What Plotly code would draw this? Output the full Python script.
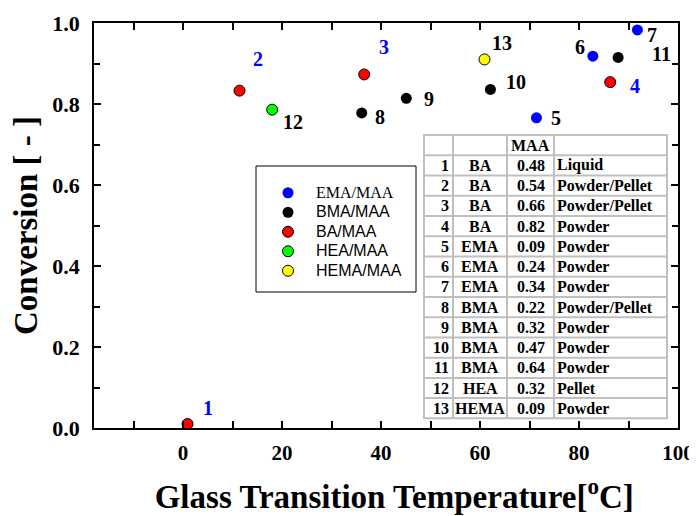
import plotly.graph_objects as go

# ---------------- data ----------------
ema_tg = [71.4, 82.8, 91.8]
ema_conv = [0.766, 0.918, 0.983]
ema_ids = ["5", "6", "7"]

bma_tg = [36.1, 45.1, 62.1, 87.9]
bma_conv = [0.778, 0.814, 0.836, 0.915]
bma_ids = ["8", "9", "10", "11"]

ba_tg = [0.9, 11.4, 36.6, 86.3]
ba_conv = [0.010, 0.833, 0.873, 0.854]
ba_ids = ["1", "2", "3", "4"]

hea_tg = [18.0]
hea_conv = [0.786]
hea_ids = ["12"]

hema_tg = [60.9]
hema_conv = [0.910]
hema_ids = ["13"]

table_no = ["1", "2", "3", "4", "5", "6", "7", "8", "9", "10", "11", "12", "13"]
table_monomer = ["BA", "BA", "BA", "BA", "EMA", "EMA", "EMA", "BMA", "BMA", "BMA", "BMA", "HEA", "HEMA"]
table_maa = ["0.48", "0.54", "0.66", "0.82", "0.09", "0.24", "0.34", "0.22", "0.32", "0.47", "0.64", "0.32", "0.09"]
table_form = ["Liquid", "Powder/Pellet", "Powder/Pellet", "Powder", "Powder", "Powder", "Powder",
              "Powder/Pellet", "Powder", "Powder", "Powder", "Pellet", "Powder"]

# ---------------- layout constants ----------------
OFF = 8  # page body margin
W, H = 697 - OFF, 516 - OFF
ML, MR, MT = 94 - OFF, 19, 23 - OFF
MB = H - (428 - OFF)
PW, PH = W - ML - MR, H - MT - MB
SERIF = "Liberation Serif"
SANS = "Liberation Sans"


def px(x):  # screenshot pixel -> paper
    return (x - OFF - ML) / PW


def py(y):
    return (H - MB - (y - OFF)) / PH


fig = go.Figure()

LEG = "<span style='font-size:16px'>%s</span>"
series = [
    (ema_tg, ema_conv, "<span style='font-size:16px;font-family:\"Liberation Serif\"'>EMA/MAA</span>",
     "#0000ff", 0, "#0000ff"),
    (bma_tg, bma_conv, LEG % "BMA/MAA", "#000000", 0, "#000000"),
    (ba_tg, ba_conv, LEG % "BA/MAA", "#ff0000", 1, "#000000"),
    (hea_tg, hea_conv, LEG % "HEA/MAA", "#00ff00", 1, "#000000"),
    (hema_tg, hema_conv, LEG % "HEMA/MAA", "#ffff00", 1, "#000000"),
]
for xs, ys, name, col, lw, lc in series:
    fig.add_trace(go.Scatter(
        x=xs, y=ys, mode="markers", name=name,
        marker=dict(size=11, color=col, line=dict(width=lw, color=lc)),
    ))

# point labels
label_offsets = {
    "1": (20, 16), "2": (18, 32), "3": (20, 27), "4": (25, -4),
    "5": (20, 0), "6": (-13, 9), "7": (15, -5), "8": (18, -4),
    "9": (23, -1), "10": (26, 7), "11": (43, 3), "12": (21, -12), "13": (18, 16),
}
label_groups = [
    (ba_tg, ba_conv, ba_ids, "#0000ff"),
    (ema_tg, ema_conv, ema_ids, "#000000"),
    (bma_tg, bma_conv, bma_ids, "#000000"),
    (hea_tg, hea_conv, hea_ids, "#000000"),
    (hema_tg, hema_conv, hema_ids, "#000000"),
]
for xs, ys, ids, col in label_groups:
    for x, y, t in zip(xs, ys, ids):
        dx, dy = label_offsets[t]
        fig.add_annotation(x=x, y=y, xref="x", yref="y", text=t, showarrow=False,
                           xshift=dx, yshift=dy,
                           font=dict(family=SERIF, size=20, color=col, weight=700))

# table
col_edges = [424, 453, 507, 554, 667]
row_top, row_h = 135, 20.24
n_rows = len(table_no) + 1
row_bottom = row_top + n_rows * row_h
fig.add_shape(type="rect", xref="paper", yref="paper",
              x0=px(col_edges[0]), x1=px(col_edges[-1]), y0=py(row_bottom), y1=py(row_top),
              fillcolor="white", line=dict(color="#bfbfbf", width=2), layer="above")
for cx in col_edges[1:-1]:
    fig.add_shape(type="line", xref="paper", yref="paper",
                  x0=px(cx), x1=px(cx), y0=py(row_bottom), y1=py(row_top),
                  line=dict(color="#bfbfbf", width=2), layer="above")
for i in range(1, n_rows):
    yy = row_top + i * row_h
    fig.add_shape(type="line", xref="paper", yref="paper",
                  x0=px(col_edges[0]), x1=px(col_edges[-1]), y0=py(yy), y1=py(yy),
                  line=dict(color="#bfbfbf", width=2), layer="above")

tfont = dict(family=SERIF, size=16, color="black", weight=700)
fig.add_annotation(x=px(530.5), y=py(row_top + row_h / 2), xref="paper", yref="paper",
                   text="MAA", showarrow=False, font=tfont, xanchor="center", yanchor="middle")
for i in range(len(table_no)):
    yc = py(row_top + (i + 1.5) * row_h)
    fig.add_annotation(x=px(451), y=yc, xref="paper", yref="paper", text=table_no[i],
                       showarrow=False, font=tfont, xanchor="right", yanchor="middle")
    fig.add_annotation(x=px(480), y=yc, xref="paper", yref="paper", text=table_monomer[i],
                       showarrow=False, font=tfont, xanchor="center", yanchor="middle")
    fig.add_annotation(x=px(530.5), y=yc, xref="paper", yref="paper", text=table_maa[i],
                       showarrow=False, font=tfont, xanchor="center", yanchor="middle")
    fig.add_annotation(x=px(555), y=yc, xref="paper", yref="paper", text=table_form[i],
                       showarrow=False, font=tfont, xanchor="left", yanchor="middle")

# legend box
fig.add_shape(type="rect", xref="paper", yref="paper",
              x0=px(256), x1=px(416), y0=py(292), y1=py(166),
              line=dict(color="black", width=1), fillcolor="rgba(0,0,0,0)", layer="above")

axis_common = dict(
    showline=True, linecolor="black", linewidth=1.5, mirror="ticks",
    ticks="inside", ticklen=7, tickwidth=1.5, tickcolor="black",
    showgrid=False, zeroline=False, ticklabeloverflow="allow",
)

fig.update_xaxes(range=[-18, 100], tickmode="linear", tick0=0, dtick=20,
                 minor=dict(ticks="inside", dtick=10, ticklen=7, tickwidth=1.5, tickcolor="black"),
                 tickfont=dict(family=SERIF, size=21, color="black", weight=700),
                 ticklabelstandoff=5,
                 title=dict(text="&nbsp;&nbsp;Glass Transition Temperature[<sup>o</sup>C]", standoff=21,
                            font=dict(family=SERIF, size=33, color="black", weight=700)),
                 **axis_common)
fig.update_yaxes(range=[0, 1.0], tickmode="linear", tick0=0, dtick=0.2, tickformat=".1f",
                 minor=dict(ticks="inside", dtick=0.1, ticklen=6, tickwidth=1.5, tickcolor="black"),
                 tickfont=dict(family=SERIF, size=22, color="black", weight=700),
                 ticklabelstandoff=8,
                 title=dict(text="Conversion [ - ]", standoff=22,
                            font=dict(family=SERIF, size=33, color="black", weight=700)),
                 **axis_common)

fig.update_layout(
    width=W, height=H,
    margin=dict(l=ML, r=MR, t=MT, b=MB, autoexpand=False),
    paper_bgcolor="white", plot_bgcolor="white",
    showlegend=True,
    legend=dict(x=px(256), y=py(178), xanchor="left", yanchor="top",
                bgcolor="rgba(0,0,0,0)", borderwidth=0, itemwidth=46, indentation=4,
                font=dict(family=SANS, size=12.7, color="black")),
)

fig.write_html("out.html")
